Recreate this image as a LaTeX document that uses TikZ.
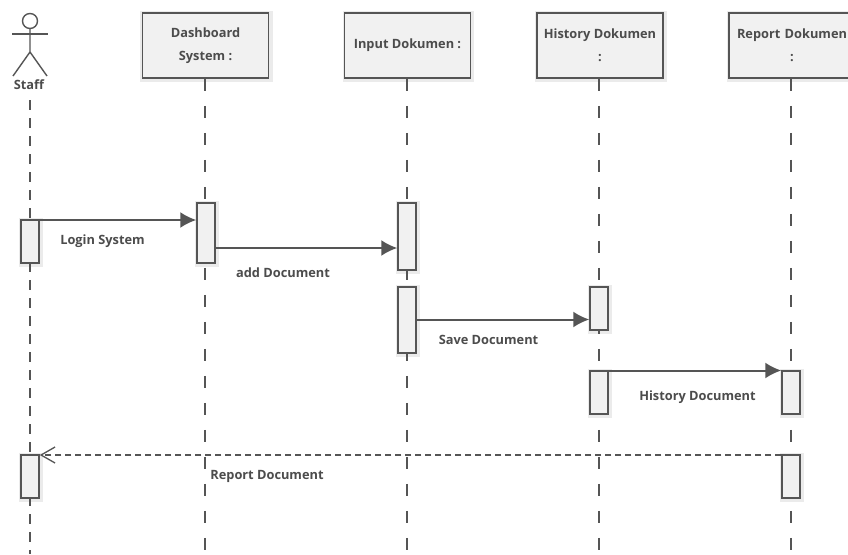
\documentclass[tikz,border=0pt]{standalone}
\usepackage{fontspec}
\setmainfont{Open Sans}
\usetikzlibrary{arrows.meta}
\definecolor{ink}{HTML}{555555}
\definecolor{fillg}{HTML}{F1F1F1}
\tikzset{
  x=1pt,y=-1pt,
  base/.style={draw=ink,line width=1.7pt,fill=fillg},
  headbox/.style={base,minimum width=126pt,minimum height=65pt,inner sep=2pt,align=center,font=\bfseries\fontsize{12.8}{23}\selectfont,text=ink!90!black},
  activ/.style={base,minimum width=18pt,inner sep=0pt,line width=1.5pt},
  lbl/.style={font=\bfseries\fontsize{12.8}{15}\selectfont,text=ink!90!black,inner sep=0pt},
  life/.style={draw=ink,line width=1.4pt,dash pattern=on 12pt off 15pt},
  stafflife/.style={draw=ink,line width=1.4pt,dash pattern=on 10pt off 8pt},
  msg/.style={draw=ink,line width=2pt,-{Latex[length=16pt,width=16pt]}},
  ret/.style={draw=ink,line width=1.9pt,dash pattern=on 6pt off 4pt,-{Straight Barb[length=14pt,width=16pt,line width=1.3pt]}},
  actor/.style={draw=ink,line width=1.4pt}
}
\newcommand{\shadowrect}[4]{\fill[black!8] (#1-2,#2-2) rectangle (#3+4,#4+4);}
\begin{document}
\begin{tikzpicture}
\useasboundingbox (0,0) rectangle (848,554);
\fill[white] (0,0) rectangle (848,554);
% shadows
\shadowrect{142}{13}{269}{78}
\shadowrect{345}{13}{470}{78}
\shadowrect{537}{13}{663}{78}
\shadowrect{729}{13}{860}{78}
\shadowrect{21}{220}{39}{263}
\shadowrect{197}{203}{215}{263}
\shadowrect{398}{203}{416}{270}
\shadowrect{398}{287}{416}{353}
\shadowrect{590}{287}{608}{330}
\shadowrect{590}{371}{608}{414}
\shadowrect{782}{371}{800}{414}
\shadowrect{782}{455}{800}{498}
\shadowrect{21}{455}{39}{498}
% heads
\node[headbox] (dash) at (205.5,45.5) {Dashboard\\System :};
\node[headbox] (input) at (407.5,45.5) {Input Dokumen :};
\node[headbox] (hist) at (600,45.5) {History Dokumen\\:};
\node[headbox,text width=122pt] (rep) at (792,45.5) {Report Dokumen\\:};
% actor
\draw[actor] (30,21) circle (7.5);
\draw[actor] (12,34) -- (48,34);
\draw[actor] (30,28.5) -- (30,52) -- (13,76);
\draw[actor] (30,52) -- (47,76);
\node[lbl] (staff) at (29,85) {Staff};
% free ends
\coordinate (e0) at (30,554);
\coordinate (e1) at (205,554);
\coordinate (e2) at (407,554);
\coordinate (e3) at (599,554);
\coordinate (e4) at (791,554);
\coordinate (s0) at (30,100);
% lifelines
\draw[stafflife] (s0) -- (e0);
\draw[life] (dash.south -| e1) -- (e1);
\draw[life] (input.south -| e2) -- (e2);
\draw[life] (hist.south -| e3) -- (e3);
\draw[life] (rep.south -| e4) -- (e4);
% activations
\node[activ,minimum height=43pt] (a0) at (30,241.5) {};
\node[activ,minimum height=60pt] (a1) at (206,233) {};
\node[activ,minimum height=67pt] (a2) at (407,236.5) {};
\node[activ,minimum height=66pt] (a3) at (407,320) {};
\node[activ,minimum height=43pt] (a4) at (599,308.5) {};
\node[activ,minimum height=43pt] (a5) at (599,392.5) {};
\node[activ,minimum height=43pt] (a6) at (791,392.5) {};
\node[activ,minimum height=43pt] (a7) at (791,476.5) {};
\node[activ,minimum height=43pt] (a8) at (30,476.5) {};
% messages
\coordinate (m0) at (30,220);
\draw[msg] (m0) -- (a1.west |- m0);
\coordinate (m1) at (215,248);
\draw[msg] (m1) -- (a2.west |- m1);
\coordinate (m2) at (416,319.5);
\draw[msg] (m2) -- (a4.west |- m2);
\coordinate (m3) at (599,370.5);
\draw[msg] (m3) -- (a6.west |- m3);
\coordinate (m4) at (791,455);
\draw[ret] (a7.west |- m4) -- (a8.east |- m4);
% labels
\node[lbl] (l1) at (102.5,241.5) {Login System};
\node[lbl] (l2) at (283,272.5) {add Document};
\node[lbl] (l3) at (488.5,340) {Save Document};
\node[lbl] (l4) at (697.5,397.5) {History Document};
\node[lbl] (l5) at (267,476.5) {Report Document};
\end{tikzpicture}
\end{document}
